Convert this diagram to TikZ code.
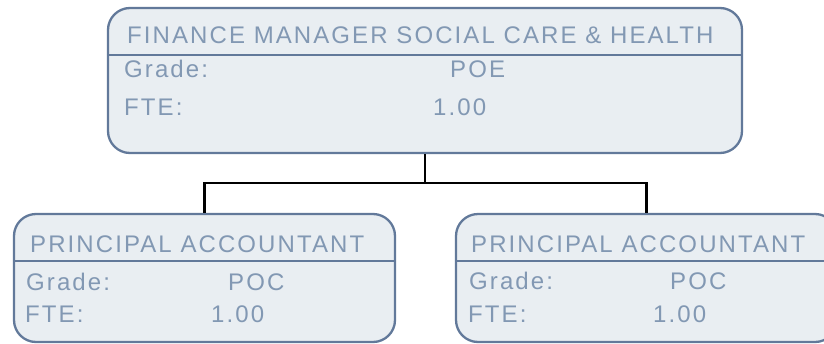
\documentclass[tikz,border=0pt]{standalone}
\usepackage{fontspec}
\setmainfont{Liberation Sans}[LetterSpace=8.7]
\definecolor{boxfill}{HTML}{E9EEF2}
\definecolor{boxline}{HTML}{62799A}
\definecolor{boxtext}{HTML}{8298B3}
\begin{document}
\begin{tikzpicture}[x=1pt,y=-1pt,
  card/.style={draw=boxline, fill=boxfill, line width=2.3pt, rounded corners=22pt, rectangle, inner sep=0pt},
  divider/.style={draw=boxline, line width=2pt},
  conn/.style={draw=black, line width=2.4pt},
  lbl/.style={anchor=base west, inner sep=0pt, text=boxtext, font=\fontsize{24}{28}\selectfont}]
\useasboundingbox (0,0) rectangle (824,343);
\clip (0,0) rectangle (824,343);
% connectors
\coordinate (j) at (425,183);
\node[card, minimum width=634pt, minimum height=145pt] (top) at (425,80.5) {};
\node[card, minimum width=381pt, minimum height=128pt] (left) at (204.5,278) {};
\node[card, minimum width=381pt, minimum height=128pt] (right) at (646.5,278) {};
\draw[conn] (top.south) -- (j);
\draw[conn] (left.north) |- (j) -| (right.north);
% dividers
\draw[divider] (top.west |- 0,55) -- (top.east |- 0,55);
\draw[divider] (left.west |- 0,261) -- (left.east |- 0,261);
\draw[divider] (right.west |- 0,261) -- (right.east |- 0,261);
% texts top
\node[lbl] (t1) at (127,43.5) {FINANCE MANAGER SOCIAL CARE \& HEALTH};
\node[lbl] (t2) at (124,77) {Grade:};
\node[lbl] (t3) at (450,77) {POE};
\node[lbl] (t4) at (124,115.5) {FTE:};
\node[lbl] (t5) at (433,115.5) {1.00};
% texts left
\node[lbl] (l1) at (30,252) {PRINCIPAL ACCOUNTANT};
\node[lbl] (l2) at (26,290) {Grade:};
\node[lbl] (l3) at (228,290) {POC};
\node[lbl] (l4) at (25,322.5) {FTE:};
\node[lbl] (l5) at (211,322.5) {1.00};
% texts right
\node[lbl] (r1) at (471,252) {PRINCIPAL ACCOUNTANT};
\node[lbl] (r2) at (469,289) {Grade:};
\node[lbl] (r3) at (670,289) {POC};
\node[lbl] (r4) at (468,322.5) {FTE:};
\node[lbl] (r5) at (653,322.5) {1.00};
\end{tikzpicture}
\end{document}
